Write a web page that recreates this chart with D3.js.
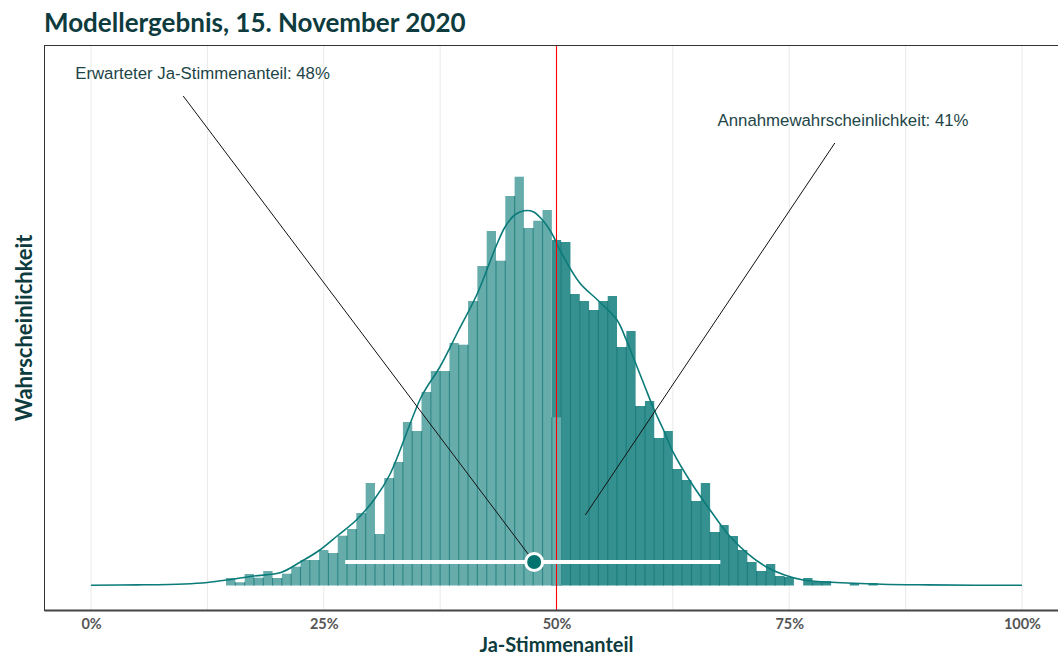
<!DOCTYPE html>
<html>
<head>
<meta charset="utf-8">
<script src="https://cdn.jsdelivr.net/npm/d3@7"></script>
<style>
  body { margin: 0; background: #fff; }
</style>
</head>
<body>
<script>
// Histogramm: Ja-Stimmenanteil in %, Bin-Mitte, Anzahl Simulationen
const hellMitte = [15,16,17,18,19,20,21,22,23,24,25,26,27,28,29,30,31,32,33,34,35,36,37,38,39,40,41,42,43,44,45,46,47,48,49,50];
const hellWerte = [7.5,3.2,11.5,7.8,14.5,7.5,11.8,18.8,25.5,25.5,35.5,32.5,49.8,56.5,72.5,102.5,51.5,107.5,123.5,163.5,154.5,193.5,214.5,214.5,242.5,240.8,284.5,319.5,354.5,324.8,389.5,408.8,357.5,364.8,375.5,168.2];

const dunkelMitte = [50,51,52,53,54,55,56,57,58,59,60,61,62,63,64,65,66,67,68,69,70,71,72,73,74,75,76,77,78,79,80,81,82,83,84];
const dunkelWerte = [345.5,343.5,291.5,284.5,275.5,284.5,289.5,238.5,254.5,179.5,184.5,147.5,154.5,116.5,105.5,84.5,102.5,53.5,60.5,49.5,35.5,23.5,14.5,21.5,9.5,8.5,0,7.5,3.5,4.5,0,0,2.5,0,2.5];

// Dichtekurve
const kurveX = [0,5,10,12.5,15,17.5,20.4,22.4,24.5,26.5,28.5,30.5,32.1,35.5,37.5,39.5,41.5,43.5,44.5,45.5,46.5,47.5,48.5,49.5,50.5,52.5,54.5,56.5,57.5,58.5,59.5,60.5,61.5,62.5,64.5,66.5,68.5,70.5,72.5,74.5,76.5,79.5,85,90,95,100];
const kurveY = [0.3,0.6,1.5,3,6,9.5,13,23,35,50,65.5,87,111,189,219,255.5,292,339,359,370.5,374.8,373.8,365.5,352,333,302.5,284.8,265.5,245.5,222.2,198.8,175.5,155.5,133.8,102.2,75.5,50.5,32.2,18.8,10.5,5.5,3.2,1.2,0.6,0.3,0.2];

const xTicks = [0,25,50,75,100];
const gridX = [0,12.5,25,37.5,50,62.5,75,87.5,100];

const intervall = [27.3, 67.6];
const erwartet = 47.6;
const punktHoehe = 23.5;

const annotationen = [
  {text: "Erwarteter Ja-Stimmenanteil: 48%", tx: -1.7, ty: 512.5, x1: 9.9, y1: 489.5, x2: 47.6, y2: 23.5},
  {text: "Annahmewahrscheinlichkeit: 41%", tx: 67.3, ty: 465.5, x1: 79.9, y1: 442.5, x2: 53.1, y2: 70.5}
];

const width = 1058, height = 657;
const panel = {left: 44.5, right: 1068.5, top: 45.5, bottom: 610.5};

const svg = d3.select("body").append("svg")
  .attr("width", width)
  .attr("height", height);

const x = d3.scaleLinear().domain([-5, 105]).range([panel.left, panel.right]);
const y = d3.scaleLinear().domain([-25, 540]).range([panel.bottom, panel.top]);

svg.append("defs").append("clipPath").attr("id", "clip")
  .append("rect")
  .attr("x", panel.left).attr("y", panel.top)
  .attr("width", panel.right - panel.left).attr("height", panel.bottom - panel.top);

const plot = svg.append("g").attr("clip-path", "url(#clip)");

// gridlines
plot.selectAll(".grid")
  .data(gridX)
  .join("line")
  .attr("x1", d => x(d)).attr("x2", d => x(d))
  .attr("y1", panel.top).attr("y2", panel.bottom)
  .attr("stroke", "#ebebeb")
  .attr("stroke-width", 1.1);

// histogram bars
function histogram(mitte, werte, fill, edge) {
  const g = plot.append("g");
  const bins = mitte.map((m, i) => ({m: m, v: werte[i]})).filter(d => d.v > 0);
  g.selectAll("rect")
    .data(bins)
    .join("rect")
    .attr("x", d => x(d.m - 0.5))
    .attr("width", d => x(d.m + 0.5) - x(d.m - 0.5))
    .attr("y", d => y(d.v))
    .attr("height", d => y(0) - y(d.v))
    .attr("fill", fill);
  // bar boundaries, darker where neighbouring outlines overlap
  const edges = [];
  mitte.forEach((m, i) => {
    const a = werte[i], b = i + 1 < werte.length ? werte[i + 1] : 0;
    const lo = Math.min(a, b);
    if (lo > 0) edges.push({e: m + 0.5, v: lo});
  });
  g.selectAll("line")
    .data(edges)
    .join("line")
    .attr("x1", d => x(d.e)).attr("x2", d => x(d.e))
    .attr("y1", y(0)).attr("y2", d => y(d.v))
    .attr("stroke", edge)
    .attr("stroke-width", 1.2);
}

histogram(dunkelMitte, dunkelWerte, "#359190", "#1c7d7c");
histogram(hellMitte, hellWerte, "#66acab", "#2f8887");

// density curve
const line = d3.line()
  .x((d, i) => x(kurveX[i]))
  .y(d => y(d))
  .curve(d3.curveCatmullRom.alpha(0.5));

plot.append("path")
  .datum(kurveY)
  .attr("fill", "none")
  .attr("stroke", "#0b7b7a")
  .attr("stroke-width", 1.6)
  .attr("d", line);

// 50% reference line
plot.append("line")
  .attr("x1", x(50)).attr("x2", x(50))
  .attr("y1", panel.top).attr("y2", panel.bottom)
  .attr("stroke", "#ff0000")
  .attr("stroke-width", 1.1);

// interval and expected value
plot.append("line")
  .attr("x1", x(intervall[0])).attr("x2", x(intervall[1]))
  .attr("y1", y(punktHoehe)).attr("y2", y(punktHoehe))
  .attr("stroke", "#fff")
  .attr("stroke-width", 4);

// annotations
annotationen.forEach(a => {
  plot.append("line")
    .attr("x1", x(a.x1)).attr("y1", y(a.y1))
    .attr("x2", x(a.x2)).attr("y2", y(a.y2))
    .attr("stroke", "#111")
    .attr("stroke-width", 1);
  svg.append("text")
    .attr("x", x(a.tx))
    .attr("y", y(a.ty))
    .attr("dy", "0.35em")
    .style("font-family", "'Liberation Sans', Arial, sans-serif")
    .style("font-size", "16.8px")
    .attr("fill", "#1d4547")
    .text(a.text);
});

plot.append("circle")
  .attr("cx", x(erwartet))
  .attr("cy", y(punktHoehe))
  .attr("r", 8.5)
  .attr("fill", "#00736f")
  .attr("stroke", "#fff")
  .attr("stroke-width", 3);

// panel border
svg.append("rect")
  .attr("x", panel.left).attr("y", panel.top)
  .attr("width", panel.right - panel.left).attr("height", panel.bottom - panel.top)
  .attr("fill", "none")
  .attr("stroke", "#333")
  .attr("stroke-width", 1);

svg.append("line")
  .attr("x1", panel.left).attr("x2", panel.right)
  .attr("y1", panel.bottom).attr("y2", panel.bottom)
  .attr("stroke", "#444")
  .attr("stroke-width", 2);

// x axis labels
const xAxis = d3.axisBottom(x)
  .tickValues(xTicks)
  .tickSize(0)
  .tickPadding(8)
  .tickFormat(d => d + "%");

const ax = svg.append("g")
  .attr("transform", `translate(0,${panel.bottom})`)
  .call(xAxis);
ax.select(".domain").remove();
ax.selectAll("text")
  .style("font-family", "Lato, sans-serif")
  .style("font-weight", "700")
  .style("font-size", "14.5px")
  .attr("fill", "#555");

// title
svg.append("text")
  .attr("x", 44)
  .attr("y", 32)
  .style("font-family", "Lato, sans-serif")
  .style("font-weight", "700")
  .style("font-size", "26px")
  .attr("fill", "#0d3b3e")
  .text("Modellergebnis, 15. November 2020");

// axis titles
svg.append("text")
  .attr("x", x(50))
  .attr("y", 652)
  .attr("text-anchor", "middle")
  .style("font-family", "Lato, sans-serif")
  .style("font-weight", "700")
  .style("font-size", "20px")
  .attr("fill", "#0d3b3e")
  .text("Ja-Stimmenanteil");

svg.append("text")
  .attr("transform", `translate(32,${(panel.top + panel.bottom) / 2}) rotate(-90)`)
  .attr("text-anchor", "middle")
  .style("font-family", "Lato, sans-serif")
  .style("font-weight", "700")
  .style("font-size", "22px")
  .attr("fill", "#0d3b3e")
  .text("Wahrscheinlichkeit");
</script>
</body>
</html>
